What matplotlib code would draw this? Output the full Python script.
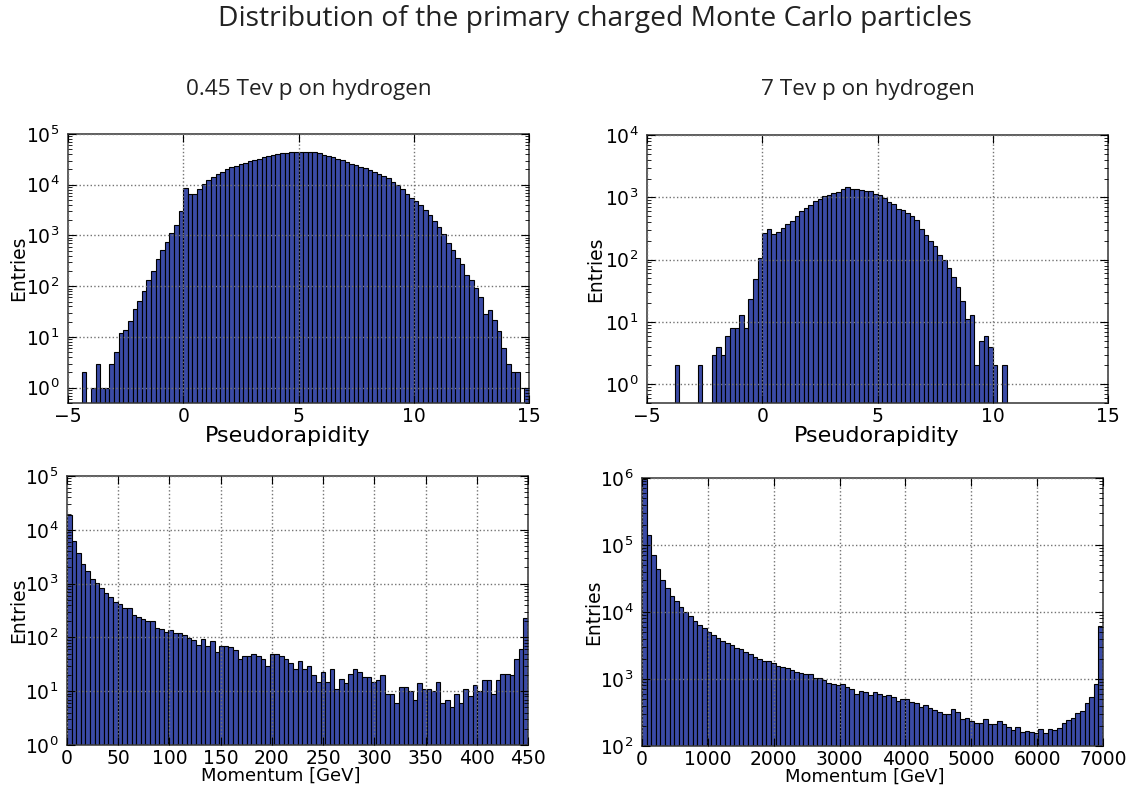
import numpy as np
import matplotlib
matplotlib.use("Agg")
import matplotlib.pyplot as plt
from matplotlib.ticker import LogLocator, LogFormatterMathtext, MultipleLocator

# ---------------- data ----------------
title = "Distribution of the primary charged Monte Carlo particles"
col_titles = ["0.45 Tev p on hydrogen", "7 Tev p on hydrogen"]

eta_range = (-5.0, 15.0)
eta_nbins = 100
eta_045 = [0, 0, 0, 2, 0, 1, 3, 1, 1, 3,
           5, 12, 14, 21, 36, 51, 80, 130, 200, 340,
           520, 740, 1120, 1600, 3100, 8600, 6450, 6700, 8300, 10200,
           12300, 14400, 16300, 18100, 20000, 22000, 23700, 25600, 27000, 28800,
           30700, 32600, 34700, 36200, 37800, 40300, 41400, 42600, 43300, 44000,
           44700, 44700, 44000, 43300, 41700, 38500, 36500, 34500, 32500, 30700,
           28000, 26000, 24500, 22500, 21000, 19200, 17700, 16300, 15000, 13300,
           11500, 9800, 8100, 6700, 5600, 4700, 3950, 3200, 2550, 1950,
           1480, 1050, 720, 510, 360, 270, 165, 130, 92, 62,
           29, 34, 22, 13, 6, 3, 2, 2, 0, 1]

eta_7 = [0, 0, 0, 0, 0, 0, 2, 0, 0, 0,
         0, 2, 0, 0, 3, 4, 3, 6, 8, 8,
         13, 8, 23, 48, 108, 265, 314, 257, 275, 322,
         370, 420, 500, 610, 680, 740, 880, 950, 1050, 1100,
         1180, 1220, 1370, 1440, 1340, 1360, 1330, 1260, 1240, 1120,
         1070, 960, 850, 780, 660, 620, 565, 500, 430, 305,
         245, 196, 166, 118, 100, 73, 53, 37, 22, 11,
         13, 2, 5, 6, 4, 2, 0, 2, 0, 0,
         0, 0, 0, 0, 0, 0, 0, 0, 0, 0,
         0, 0, 0, 0, 0, 0, 0, 0, 0, 0]

p045_range = (0.0, 450.0)
p045_nbins = 100
p_045 = [18600, 6300, 3700, 2300, 1700, 1240, 1010, 835, 660, 565,
         450, 420, 354, 354, 257, 243, 223, 201, 201, 151,
         143, 126, 139, 122, 119, 109, 97, 91, 71, 95,
         69, 86, 54, 69, 69, 65, 59, 39, 45, 45,
         50, 45, 39, 30, 49, 49, 46, 40, 34, 26,
         36, 26, 30, 20, 15, 23, 15, 26, 11, 17,
         14, 21, 26, 23, 18, 18, 15, 16, 20, 9,
         9, 6, 12, 12, 10, 7, 14, 11, 11, 10,
         15, 6, 7, 5, 9, 6, 11, 8, 13, 10,
         16, 16, 9, 16, 21, 21, 20, 40, 61, 233]

p7_range = (0.0, 7000.0)
p7_nbins = 100
p_7 = [980000, 142000, 71000, 44000, 30000, 23000, 17400, 14500, 11800, 10000,
       8700, 7400, 6500, 5800, 5000, 4550, 4050, 3750, 3400, 3200,
       2870, 2780, 2530, 2360, 2160, 2000, 1840, 1840, 1720, 1590,
       1530, 1450, 1370, 1270, 1230, 1180, 1170, 1050, 1020, 950,
       870, 830, 815, 830, 750, 700, 600, 655, 630, 585,
       632, 600, 550, 570, 540, 465, 495, 495, 455, 440,
       380, 415, 365, 350, 325, 300, 300, 360, 320, 256,
       262, 234, 223, 223, 253, 213, 213, 236, 211, 195,
       173, 192, 164, 167, 162, 158, 177, 158, 182, 175,
       186, 220, 247, 262, 308, 330, 434, 540, 830, 6100]

# ---------------- style ----------------
bar_color = "#3b4ba6"
font_txt = ["Open Sans", "DejaVu Sans"]
plt.rcParams["font.family"] = "DejaVu Sans"
plt.rcParams["mathtext.default"] = "regular"

W, H = 1136, 794
fig = plt.figure(figsize=(W / 100, H / 100), dpi=100)


def ax_rect(left, top, right, bottom):
    return [left / W, 1 - bottom / H, (right - left) / W, (bottom - top) / H]


def draw(ax, counts, rng, nbins, ylim, xlim, xmajor, xlabel, xlab_size):
    counts = np.asarray(counts, dtype=float)
    edges = np.linspace(rng[0], rng[1], nbins + 1)
    m = counts > 0
    ax.set_yscale("log")
    ax.bar(edges[:-1][m], counts[m], width=np.diff(edges)[m], align="edge",
           color=bar_color, edgecolor="black", linewidth=0.8, zorder=2)
    ax.set_xlim(*xlim)
    ax.set_ylim(*ylim)
    ax.xaxis.set_major_locator(MultipleLocator(xmajor))
    ax.yaxis.set_major_locator(LogLocator(base=10, numticks=20))
    ax.yaxis.set_minor_locator(LogLocator(base=10, subs=np.arange(2, 10), numticks=50))
    ax.yaxis.set_major_formatter(LogFormatterMathtext())
    ax.grid(True, which="major", linestyle=":", color="0.45", linewidth=1.0, zorder=3)
    ax.set_axisbelow(False)
    ax.tick_params(which="both", direction="in", top=True, right=True, labelsize=13.5)
    ax.tick_params(axis="x", pad=3)
    ax.tick_params(axis="y", pad=6)
    ax.tick_params(which="major", length=6, width=0.8)
    ax.tick_params(which="minor", length=3, width=0.6)
    for s in ax.spines.values():
        s.set_linewidth(1.1)
        s.set_color("#333333")
    ax.set_xlabel(xlabel, fontsize=xlab_size)
    ax.set_ylabel("Entries", fontsize=13.5)


ax1 = fig.add_axes(ax_rect(68, 134, 529, 403))
draw(ax1, eta_045, eta_range, eta_nbins, (0.5, 1e5), (-5, 15), 5, "Pseudorapidity", 16)
ax2 = fig.add_axes(ax_rect(647, 135, 1108, 403))
draw(ax2, eta_7, eta_range, eta_nbins, (0.5, 1e4), (-5, 15), 5, "Pseudorapidity", 16)
ax3 = fig.add_axes(ax_rect(67, 476, 528, 745))
draw(ax3, p_045, p045_range, p045_nbins, (1, 1e5), (0, 450), 50, "Momentum [GeV]", 13)
ax4 = fig.add_axes(ax_rect(642, 478, 1103, 746))
draw(ax4, p_7, p7_range, p7_nbins, (1e2, 1e6), (0, 7000), 1000, "Momentum [GeV]", 13)

for ax, lx, xx, ly in [(ax1, -0.087, 0.477, -0.086), (ax2, -0.09, 0.499, -0.086),
                       (ax3, -0.085, 0.463, -0.080), (ax4, -0.085, 0.483, -0.080)]:
    ax.yaxis.set_label_coords(lx, 0.5)
    ax.xaxis.set_label_coords(xx, ly)

fig.text(595 / W, 1 - 19 / H, title, ha="center", va="center",
         fontsize=20.3, family=font_txt, color="#222222")
fig.text(309 / W, 1 - 89 / H, col_titles[0], ha="center", va="center",
         fontsize=16.2, family=font_txt, color="#222222")
fig.text(868 / W, 1 - 89 / H, col_titles[1], ha="center", va="center",
         fontsize=16.2, family=font_txt, color="#222222")

fig.savefig("out.png", dpi=100)
